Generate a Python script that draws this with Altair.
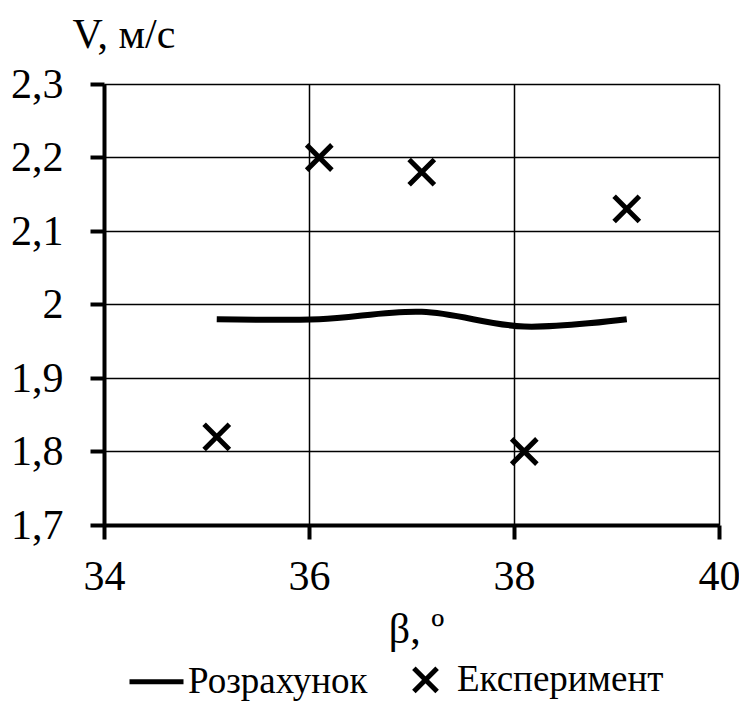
import altair as alt
import pandas as pd

# Data
beta_calc = [35.1, 36.1, 37.1, 38.1, 39.1]
v_calc = [1.98, 1.98, 1.99, 1.97, 1.98]
beta_exp = [35.1, 36.1, 37.1, 38.1, 39.1]
v_exp = [1.82, 2.20, 2.18, 1.80, 2.13]
series = ["Розрахунок", "Експеримент"]
x_ticks = [34, 36, 38, 40]
y_ticks = [1.7, 1.8, 1.9, 2.0, 2.1, 2.2, 2.3]

calc = pd.DataFrame({"beta": beta_calc, "v": v_calc, "s": series[0]})
exp = pd.DataFrame({"beta": beta_exp, "v": v_exp, "s": series[1]})

FONT = "Liberation Serif, Times New Roman, serif"
line_path = "M-1,0L1,0"
cross_path = "M-0.43,-0.43L0.43,0.43M-0.43,0.43L0.43,-0.43"

x_enc = alt.X("beta:Q", scale=alt.Scale(domain=[34, 40], nice=False),
              axis=alt.Axis(values=x_ticks, title="β, º", titleX=312, titleY=117,
                            titleBaseline="alphabetic", labelFlush=False,
                            domainWidth=4, tickWidth=4, tickSize=14, labelPadding=17))
y_enc = alt.Y("v:Q", scale=alt.Scale(domain=[1.7, 2.3], nice=False, zero=False),
              axis=alt.Axis(values=y_ticks, title="V, м/с", titleAngle=0,
                            titleX=-32, titleY=-37, titleAlign="left",
                            titleBaseline="alphabetic", domainWidth=4, tickWidth=4,
                            tickSize=14, labelPadding=27,
                            labelExpr="replace(format(datum.value, '.1~f'), '.', ',')"))

line = alt.Chart(calc).mark_line(color="black", strokeWidth=6,
                                 interpolate="catmull-rom").encode(x=x_enc, y=y_enc)

pts = alt.Chart(exp).mark_point(filled=False, color="black", strokeWidth=5,
                                size=3450, opacity=1).encode(
    x=x_enc, y=y_enc,
    shape=alt.Shape("s:N", scale=alt.Scale(domain=series, range=[line_path, cross_path]),
                    legend=alt.Legend(title=None, orient="none", direction="horizontal",
                                      legendX=23, legendY=566, symbolSize=2916,
                                      symbolStrokeWidth=5, symbolStrokeColor="black",
                                      labelFont=FONT, labelFontSize=37, labelColor="black",
                                      labelOffset=2, columnPadding=28,
                                      labelLimit=400)))

chart = alt.layer(line, pts).properties(
    width=615, height=441,
    autosize=alt.AutoSizeParams(type="none"),
    padding={"left": 96, "top": 76, "right": 20, "bottom": 177},
    background="white",
).configure_view(stroke=None).configure_axis(
    labelFont=FONT, titleFont=FONT, labelFontSize=42, titleFontSize=42,
    labelColor="black", titleColor="black", titleFontWeight="normal",
    domainColor="black", tickColor="black",
    gridColor="black", gridWidth=1.5, gridOpacity=1,
)

chart.save("out.html", embed_options={"renderer": "svg", "actions": False})
